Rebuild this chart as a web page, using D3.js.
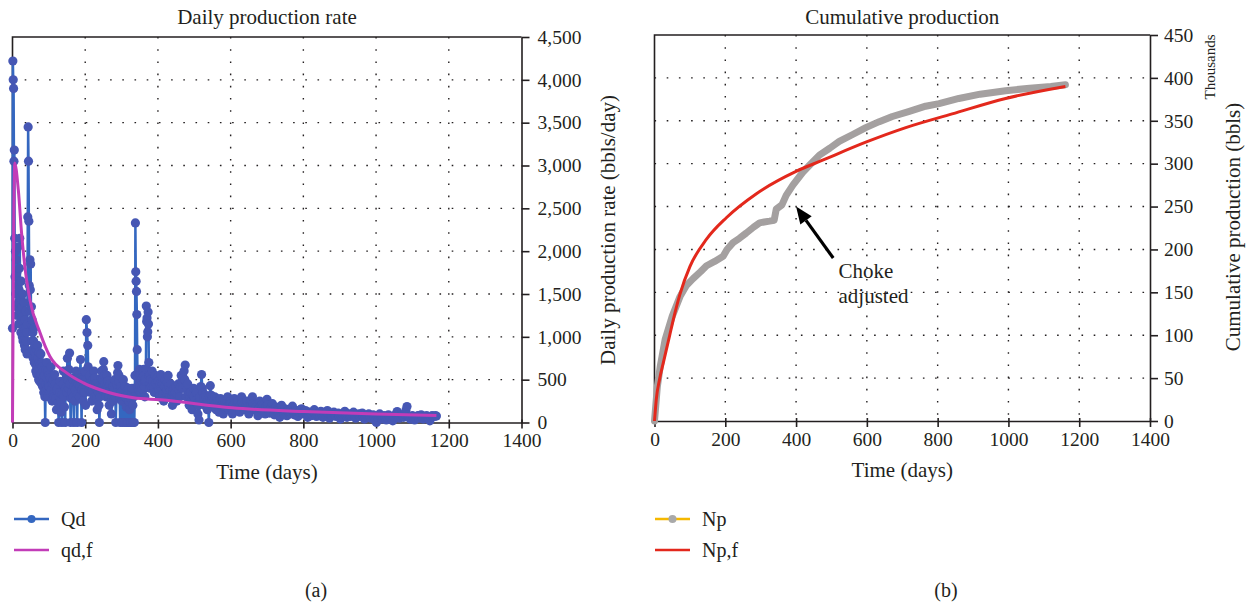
<!DOCTYPE html>
<html>
<head>
<meta charset="utf-8">
<script src="https://cdn.jsdelivr.net/npm/d3@7"></script>
<style>
  body { margin: 0; background: #fff; }
  svg text { font-family: "Liberation Serif", "Times New Roman", serif; fill: #231f20; }
  .grid line { stroke: #231f20; stroke-width: 1.4; stroke-dasharray: 1.6, 10.6; }
  .axis path, .axis line, .frame { stroke: #231f20; stroke-width: 1.6; fill: none; }
  .axis text { font-size: 19.5px; }
</style>
</head>
<body>
<svg id="chart" width="1252" height="603"></svg>
<script>
// ---- data ----
const timeTicks = [0, 200, 400, 600, 800, 1000, 1200, 1400];
const rateTicks = [0, 500, 1000, 1500, 2000, 2500, 3000, 3500, 4000, 4500];
const cumTicks = [0, 50, 100, 150, 200, 250, 300, 350, 400, 450];

// Qd: daily rate, [day, bbls/day]
const qdData = [
  [0,1100],[1,4220],[2,4000],[3,3900],[4,3050],[5,3180],[6,2150],[7,1700],[8,2000],[9,1500],
  [10,1900],[11,1350],[12,1750],[13,1250],[14,1600],[15,2050],[16,1400],[17,1150],[18,1550],[19,1800],
  [20,2150],[21,1300],[22,1450],[23,1050],[24,1650],[25,1200],[26,1350],[27,1000],[28,1500],[29,950],
  [30,1250],[31,1100],[32,1400],[33,900],[34,1200],[35,850],[36,1100],[37,1300],[38,950],[39,1050],
  [40,800],[41,1150],[42,2400],[43,3450],[44,3050],[45,2350],[46,1600],[47,1300],[48,1900],[49,1550],
  [50,1850],[51,1150],[52,1350],[53,950],[54,1200],[55,850],[56,1050],[57,750],[58,950],[59,1100],
  [60,700],[61,820],[62,900],[63,680],[64,600],[65,780],[66,850],[67,560],[68,650],[69,900],
  [70,750],[71,620],[72,500],[73,820],[74,700],[75,480],[76,550],[77,680],[78,800],[79,560],
  [80,450],[81,700],[82,650],[83,420],[84,600],[85,520],[86,350],[87,480],[88,550],[89,300],
  [90,0],[91,380],[92,450],[93,620],[94,700],[95,520],[96,400],[97,600],[98,300],[99,450],
  [100,550],[101,420],[103,350],[104,520],[106,650],[107,380],[109,250],[110,460],[112,500],[113,330],
  [115,300],[116,560],[118,450],[119,280],[121,150],[122,380],[124,400],[125,230],[127,0],[128,310],
  [130,350],[131,480],[133,250],[134,120],[136,0],[137,330],[139,450],[140,600],[142,300],[143,180],
  [145,0],[146,400],[148,550],[149,350],[151,750],[152,500],[154,400],[155,620],[157,810],[158,450],
  [160,0],[161,280],[163,350],[164,520],[166,500],[167,300],[169,0],[170,420],[172,250],[173,380],
  [175,600],[176,470],[178,0],[179,330],[181,450],[182,560],[184,300],[185,420],[187,735],[188,520],
  [190,0],[191,380],[193,500],[194,250],[196,350],[197,480],[199,600],[200,350],[201,200],[203,1200],
  [205,1050],[207,900],[208,650],[209,450],[211,380],[212,550],[214,420],[215,350],[217,480],[218,250],
  [220,380],[221,500],[223,450],[224,600],[226,520],[227,300],[229,400],[230,450],[232,280],[233,150],
  [235,420],[236,350],[238,200],[239,0],[241,300],[242,400],[244,520],[245,600],[247,380],[248,500],
  [250,620],[251,710],[253,550],[254,450],[256,380],[257,300],[259,420],[260,550],[262,480],[263,400],
  [265,300],[266,200],[268,380],[269,450],[271,250],[272,100],[274,300],[275,350],[277,420],[278,250],
  [280,380],[281,500],[283,300],[284,0],[286,350],[287,450],[289,580],[290,665],[292,480],[293,550],
  [295,300],[296,0],[298,420],[299,350],[301,250],[302,0],[304,380],[305,500],[307,300],[308,0],
  [310,420],[311,300],[313,180],[314,0],[316,320],[317,0],[319,400],[320,250],[322,150],[323,0],
  [325,280],[326,0],[328,350],[329,400],[331,200],[332,0],[334,300],[335,0],
  [337,550],[338,2330],[339,1760],[340,1650],[341,1530],[342,1260],[343,850],[344,420],[345,520],[346,580],
  [347,380],[348,450],[349,620],[350,550],[351,420],[352,350],[353,560],[354,500],[355,330],[356,400],
  [357,520],[358,600],[359,380],[360,450],[361,620],[362,550],[363,420],[364,300],[365,480],[366,500],
  [367,620],[368,1360],[369,1180],[370,1220],[371,1000],[372,1060],[373,1290],[374,1150],[375,700],[376,550],
  [377,460],[378,400],[379,560],[380,500],[382,420],[384,600],[386,480],[388,420],[390,350],[392,550],
  [394,460],[396,350],[398,520],[400,480],[402,380],[404,300],[406,450],[408,560],[410,400],[412,450],
  [414,330],[416,250],[418,420],[420,500],[422,350],[424,380],[426,470],[428,550],[430,420],[432,300],
  [434,380],[436,450],[438,300],[440,200],[442,350],[444,400],[446,300],[448,350],[450,420],[452,250],
  [454,330],[456,450],[458,380],[460,300],[462,420],[464,550],[466,480],[468,400],[470,520],[472,600],
  [474,500],[475,670],[477,420],[478,300],[480,380],[482,450],[484,330],[486,200],[488,300],[490,350],
  [492,250],[494,150],[496,320],[498,400],[500,300],[502,250],[504,380],[506,350],[508,220],[510,100],
  [511,200],[513,30],[515,250],[516,300],[518,420],[520,560],[522,400],[524,350],[526,280],[528,200],
  [530,320],[532,300],[534,220],[536,150],[538,260],[540,0],[542,300],[544,430],[546,320],[548,250],
  [550,300],[552,180],[554,260],[556,300],[558,220],[560,150],[562,280],[564,250],[566,180],[568,120],
  [570,230],[572,280],[574,190],[576,200],[578,260],[580,100],[582,200],[584,250],[586,160],[588,180],
  [590,250],[592,300],[594,200],[596,150],[598,240],[600,220],[602,160],[605,100],[607,200],[610,280],
  [612,220],[615,180],[617,240],[620,250],[622,170],[625,120],[627,210],[630,300],[632,230],[635,200],
  [637,160],[640,150],[642,200],[645,250],[647,180],[650,100],[652,170],[655,200],[657,260],[660,300],
  [662,220],[665,150],[667,200],[670,180],[672,130],[675,80],[677,170],[680,250],[682,190],[685,150],
  [687,220],[690,200],[692,140],[695,100],[697,180],[700,270],[702,200],[705,150],[707,110],[710,120],
  [712,180],[715,220],[717,150],[720,90],[722,140],[725,180],[727,130],[730,140],[732,100],[735,60],
  [737,140],[740,200],[742,150],[745,120],[747,90],[750,160],[752,120],[755,80],[757,130],[760,150],
  [762,100],[765,110],[767,160],[770,190],[772,130],[775,90],[777,120],[780,140],[782,100],[785,70],
  [787,110],[790,120],[792,150],[795,160],[797,110],[800,100],[803,130],[806,140],[809,90],[812,60],
  [815,100],[818,120],[821,80],[824,90],[827,120],[830,150],[833,100],[836,70],[839,90],[842,110],
  [845,80],[848,130],[851,90],[854,60],[857,80],[860,100],[863,120],[866,140],[869,90],[872,50],
  [875,80],[878,90],[881,110],[884,120],[887,90],[890,70],[893,100],[896,110],[899,70],[902,40],
  [905,70],[908,90],[911,110],[914,130],[917,90],[920,60],[923,80],[926,100],[929,70],[932,80],
  [935,100],[938,120],[941,80],[944,50],[947,70],[950,90],[953,100],[956,70],[959,90],[962,110],
  [965,70],[968,40],[971,60],[974,80],[977,90],[980,100],[983,70],[986,50],[989,70],[992,90],
  [995,60],[998,20],[1001,0],[1004,60],[1007,80],[1010,100],[1013,70],[1016,40],[1019,60],[1022,80],
  [1025,60],[1028,30],[1031,60],[1034,90],[1037,70],[1040,60],[1043,40],[1046,20],[1049,60],[1052,80],
  [1055,100],[1058,128],[1061,90],[1064,50],[1067,70],[1070,90],[1073,80],[1076,60],[1079,100],[1082,140],
  [1085,187],[1088,70],[1091,60],[1094,40],[1097,60],[1100,80],[1103,60],[1106,30],[1109,50],[1112,70],
  [1115,80],[1118,50],[1121,70],[1124,90],[1127,60],[1130,40],[1133,60],[1136,70],[1139,80],[1142,60],
  [1145,40],[1148,20],[1151,60],[1154,80],[1157,70],[1160,70],[1163,80],[1166,75]
];

// qd,f: fitted decline curve, [day, bbls/day]
const qdFit = [
  [0,0],[6,3030],[16,2715],[25,2210],[34,1820],[48,1430],[76,1045],[103,770],[149,580],
  [195,463],[241,382],[333,288],[406,265],[604,171],[801,128],[1000,98],[1166,82]
];

// Np: cumulative production, [day, thousand bbls]
const npData = [
  [0,0],[8,40],[16,63],[30,95],[50,122],[72,145],[90,158],[109,166],[130,174],[147,181],
  [170,186],[194,192],[205,200],[222,208],[240,213],[259,219],[280,226],[297,231],[310,232],[325,233],
  [338,234],[344,247],[360,252],[372,263],[391,275],[419,290],[440,299],[466,310],[495,318],[522,326],
  [560,334],[597,342],[635,349],[672,355],[720,361],[766,367],[804,370],[860,376],[920,381],[992,385],
  [1060,388],[1120,390],[1161,392]
];

// Np,f: fitted cumulative, [day, thousand bbls]
const npFit = [
  [0,0],[5,25],[15,50],[25,68],[43,100],[53,118],[72,148],[100,180],[147,212],[203,237],
  [288,265],[400,291],[475,304],[597,325],[710,342],[841,358],[992,376],[1161,390]
];

const svg = d3.select("#chart");

// one panel: grid, frame, axes, returns scales
function drawPanel(cfg) {
  const x = d3.scaleLinear().domain([0, 1400]).range([cfg.left, cfg.right]);
  const y = d3.scaleLinear().domain([0, cfg.yTicks[cfg.yTicks.length - 1]]).range([cfg.bottom, cfg.top]);
  const g = svg.append("g");

  g.append("g").attr("class", "grid")
    .selectAll("line").data(timeTicks.slice(1, -1)).join("line")
    .attr("x1", d => x(d)).attr("x2", d => x(d))
    .attr("y1", cfg.top).attr("y2", cfg.bottom);
  g.append("g").attr("class", "grid")
    .selectAll("line").data(cfg.yTicks.slice(1, -1)).join("line")
    .attr("x1", cfg.left).attr("x2", cfg.right)
    .attr("y1", d => y(d)).attr("y2", d => y(d));

  g.append("path").attr("class", "frame")
    .attr("d", `M${cfg.left},${cfg.bottom}V${cfg.top}H${cfg.right}`);

  const xAxis = g.append("g").attr("class", "axis")
    .attr("transform", `translate(0,${cfg.bottom})`)
    .call(d3.axisBottom(x).tickValues(timeTicks).tickSize(6).tickSizeOuter(0).tickPadding(5).tickFormat(d3.format("d")));
  xAxis.selectAll(".tick line").attr("y1", -3);

  g.append("g").attr("class", "axis")
    .attr("transform", `translate(${cfg.right},0)`)
    .call(d3.axisRight(y).tickValues(cfg.yTicks).tickSize(8).tickSizeOuter(0).tickPadding(cfg.pad).tickFormat(cfg.fmt));

  g.append("text").attr("x", (cfg.left + cfg.right) / 2).attr("y", 23.5)
    .attr("text-anchor", "middle").style("font-size", "21px").text(cfg.title);
  g.append("text").attr("x", (cfg.left + cfg.right) / 2).attr("y", cfg.bottom + 56)
    .attr("text-anchor", "middle").style("font-size", "21px").text("Time (days)");
  g.append("text")
    .attr("transform", `translate(${cfg.ylabX},${cfg.ylabY}) rotate(-90)`)
    .attr("text-anchor", "middle").style("font-size", "21px").text(cfg.ylabel);

  return { g, x, y };
}

// ---- (a) daily production rate ----
const a = drawPanel({
  left: 12.5, right: 521.5, top: 37, bottom: 422.5,
  yTicks: rateTicks, fmt: d3.format(","), pad: 8,
  title: "Daily production rate",
  ylabel: "Daily production rate (bbls/day)", ylabX: 615, ylabY: 230
});

const lineA = d3.line().x(d => a.x(d[0])).y(d => a.y(d[1]));
a.g.append("path").datum(qdData).attr("d", lineA)
  .attr("fill", "none").attr("stroke", "#3467c0").attr("stroke-width", 2.5);
a.g.append("g").selectAll("circle").data(qdData).join("circle")
  .attr("cx", d => a.x(d[0])).attr("cy", d => a.y(d[1])).attr("r", 4.6)
  .attr("fill", "#4657b4");
a.g.append("path").datum(qdFit).attr("d", lineA.curve(d3.curveMonotoneX))
  .attr("fill", "none").attr("stroke", "#c23cb8").attr("stroke-width", 3);

// ---- (b) cumulative production ----
const b = drawPanel({
  left: 654.5, right: 1150, top: 35, bottom: 421,
  yTicks: cumTicks, fmt: d3.format("d"), pad: 6,
  title: "Cumulative production",
  ylabel: "Cumulative production (bbls)", ylabX: 1240, ylabY: 227
});
b.g.append("text")
  .attr("transform", "translate(1215,67) rotate(-90)")
  .attr("text-anchor", "middle").style("font-size", "15px").text("Thousands");

const lineB = d3.line().x(d => b.x(d[0])).y(d => b.y(d[1]));
b.g.append("path").datum(npData).attr("d", lineB)
  .attr("fill", "none").attr("stroke", "#a4a0a0").attr("stroke-width", 7)
  .attr("stroke-linejoin", "round").attr("stroke-linecap", "round");
b.g.append("path").datum(npFit).attr("d", lineB.curve(d3.curveMonotoneX))
  .attr("fill", "none").attr("stroke", "#e3281c").attr("stroke-width", 3);

// annotation
const tip = [b.x(400), b.y(250)];
const tail = [b.x(505), b.y(190)];
const ang = Math.atan2(tail[1] - tip[1], tail[0] - tip[0]);
const headLen = 17, headW = 7;
const base = [tip[0] + headLen * Math.cos(ang), tip[1] + headLen * Math.sin(ang)];
b.g.append("line")
  .attr("x1", base[0]).attr("y1", base[1]).attr("x2", tail[0]).attr("y2", tail[1])
  .attr("stroke", "#000").attr("stroke-width", 3.2);
b.g.append("path")
  .attr("d", `M${tip[0]},${tip[1]}L${base[0] - headW * Math.sin(ang)},${base[1] + headW * Math.cos(ang)}L${base[0] + headW * Math.sin(ang)},${base[1] - headW * Math.cos(ang)}Z`)
  .attr("fill", "#000");
b.g.append("text").attr("x", b.x(520)).attr("y", b.y(167)).style("font-size", "21px").text("Choke");
b.g.append("text").attr("x", b.x(520)).attr("y", b.y(138)).style("font-size", "21px").text("adjusted");

// ---- legends and captions ----
function legendItem(x0, yy, color, dotColor, label) {
  svg.append("line").attr("x1", x0).attr("x2", x0 + 35).attr("y1", yy).attr("y2", yy)
    .attr("stroke", color).attr("stroke-width", 2.5);
  if (dotColor) {
    svg.append("circle").attr("cx", x0 + 17.5).attr("cy", yy).attr("r", 4).attr("fill", dotColor);
  }
  svg.append("text").attr("x", x0 + 47).attr("y", yy + 7).style("font-size", "20px").text(label);
}
legendItem(14, 519, "#3467c0", "#3467c0", "Qd");
legendItem(14, 550, "#c23cb8", null, "qd,f");
legendItem(655, 519, "#f5b800", "#a9a9a9", "Np");
legendItem(655, 550, "#e3281c", null, "Np,f");

svg.append("text").attr("x", 316).attr("y", 597).attr("text-anchor", "middle").style("font-size", "20px").text("(a)");
svg.append("text").attr("x", 946).attr("y", 597).attr("text-anchor", "middle").style("font-size", "20px").text("(b)");
</script>
</body>
</html>
